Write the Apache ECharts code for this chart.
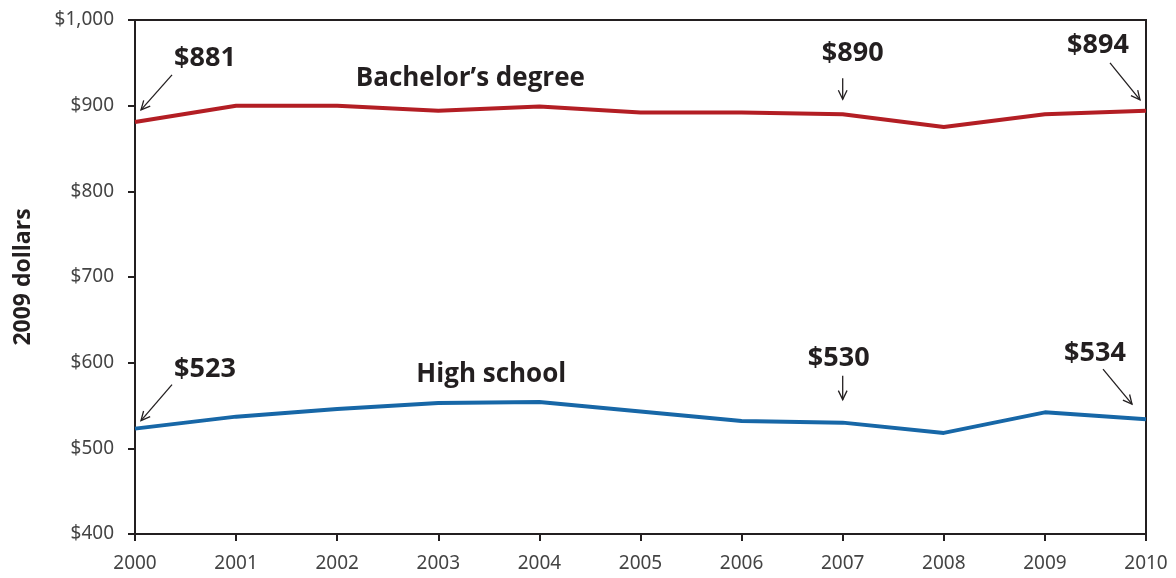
<!DOCTYPE html>
<html>
<head>
<meta charset="utf-8">
<script src="https://cdn.jsdelivr.net/npm/echarts@6/dist/echarts.min.js"></script>
<style>
  html, body { margin: 0; padding: 0; background: #fff; }
  #chart { width: 1176px; height: 578px; }
</style>
</head>
<body>
<div id="chart"></div>
<script>
// data
const years = ['2000', '2001', '2002', '2003', '2004', '2005', '2006', '2007', '2008', '2009', '2010'];
const bachelor = [881, 900, 900, 894, 899, 892, 892, 890, 875, 890, 894];
const highSchool = [523, 537, 546, 553, 554, 543, 532, 530, 518, 542, 534];

// callouts: [series, year index, text]
const callouts = [
  ['bachelor', 0, '$881'],
  ['bachelor', 7, '$890'],
  ['bachelor', 10, '$894'],
  ['high', 0, '$523'],
  ['high', 7, '$530'],
  ['high', 10, '$534']
];

const ink = '#231f20';
const red = '#b31e24';
const blue = '#1767a7';

var chartDom = document.getElementById('chart');
var myChart = echarts.init(chartDom);

var option = {
  animation: false,
  grid: {
    left: 135,
    right: 30,
    top: 20,
    bottom: 44,
    show: true,
    borderColor: ink,
    borderWidth: 2
  },
  xAxis: {
    type: 'category',
    boundaryGap: false,
    data: years,
    axisLine: { lineStyle: { color: ink, width: 2 } },
    axisTick: { show: true, length: 7, lineStyle: { color: ink, width: 2 } },
    axisLabel: { color: '#444', fontFamily: 'Noto Sans', fontSize: 19, margin: 20 },
    splitLine: { show: false }
  },
  yAxis: {
    type: 'value',
    min: 400,
    max: 1000,
    interval: 100,
    name: '2009 dollars',
    nameLocation: 'middle',
    nameGap: 100,
    nameRotate: 90,
    nameTextStyle: { color: ink, fontFamily: 'Open Sans', fontWeight: 'bold', fontSize: 23 },
    axisLine: { show: true, lineStyle: { color: ink, width: 2 } },
    axisTick: { show: true, length: 7, lineStyle: { color: ink, width: 2 } },
    axisLabel: {
      color: '#444',
      fontFamily: 'Noto Sans',
      fontSize: 19,
      margin: 21,
      formatter: function(v) {
        return '$' + v.toLocaleString('en-US');
      }
    },
    splitLine: { show: false }
  },
  series: [
    {
      name: 'Bachelor’s degree',
      type: 'line',
      data: bachelor,
      symbol: 'none',
      lineStyle: { color: red, width: 4 }
    },
    {
      name: 'High school',
      type: 'line',
      data: highSchool,
      symbol: 'none',
      lineStyle: { color: blue, width: 4 }
    }
  ]
};
myChart.setOption(option);

// callout layout, offsets in px relative to the data point
const calloutLayout = {
  '$881': { text: [70, -64], from: [37, -47], to: [6, -12] },
  '$890': { text: [10, -61], from: [0, -36], to: [0, -15] },
  '$894': { text: [-48, -65], from: [-36, -48], to: [-6, -11] },
  '$523': { text: [70, -59], from: [37, -44], to: [6, -8] },
  '$530': { text: [-4, -64], from: [0, -47], to: [0, -23] },
  '$534': { text: [-51, -66], from: [-43, -50], to: [-14, -15] }
};

function arrowHead(x1, y1, x2, y2) {
  const ang = Math.atan2(y2 - y1, x2 - x1);
  const len = 10, spread = 0.45;
  return [
    [x2 - len * Math.cos(ang - spread), y2 - len * Math.sin(ang - spread)],
    [x2, y2],
    [x2 - len * Math.cos(ang + spread), y2 - len * Math.sin(ang + spread)]
  ];
}

const graphics = [];
callouts.forEach(c => {
  const vals = c[0] === 'bachelor' ? bachelor : highSchool;
  const p = myChart.convertToPixel({ gridIndex: 0 }, [years[c[1]], vals[c[1]]]);
  const l = calloutLayout[c[2]];
  graphics.push({
    type: 'text',
    x: p[0] + l.text[0],
    y: p[1] + l.text[1],
    style: {
      text: c[2],
      fill: ink,
      font: 'bold 27px "Open Sans"',
      textAlign: 'center',
      textVerticalAlign: 'middle'
    }
  });
  const x1 = p[0] + l.from[0], y1 = p[1] + l.from[1];
  const x2 = p[0] + l.to[0], y2 = p[1] + l.to[1];
  graphics.push({
    type: 'line',
    shape: { x1: x1, y1: y1, x2: x2, y2: y2 },
    style: { stroke: ink, lineWidth: 1.3 }
  });
  graphics.push({
    type: 'polyline',
    shape: { points: arrowHead(x1, y1, x2, y2) },
    style: { stroke: ink, lineWidth: 1.3, fill: null }
  });
});

// series names placed near the lines
const bPos = myChart.convertToPixel({ gridIndex: 0 }, [years[3], bachelor[3]]);
const hPos = myChart.convertToPixel({ gridIndex: 0 }, [years[3], highSchool[3]]);
graphics.push({
  type: 'text',
  x: bPos[0] + 32,
  y: bPos[1] - 32,
  style: { text: 'Bachelor’s degree', fill: ink, font: 'bold 26px "Open Sans"', textAlign: 'center', textVerticalAlign: 'middle' }
});
graphics.push({
  type: 'text',
  x: hPos[0] + 53,
  y: hPos[1] - 28,
  style: { text: 'High school', fill: ink, font: 'bold 26px "Open Sans"', textAlign: 'center', textVerticalAlign: 'middle' }
});

myChart.setOption({ graphic: graphics });
</script>
</body>
</html>
